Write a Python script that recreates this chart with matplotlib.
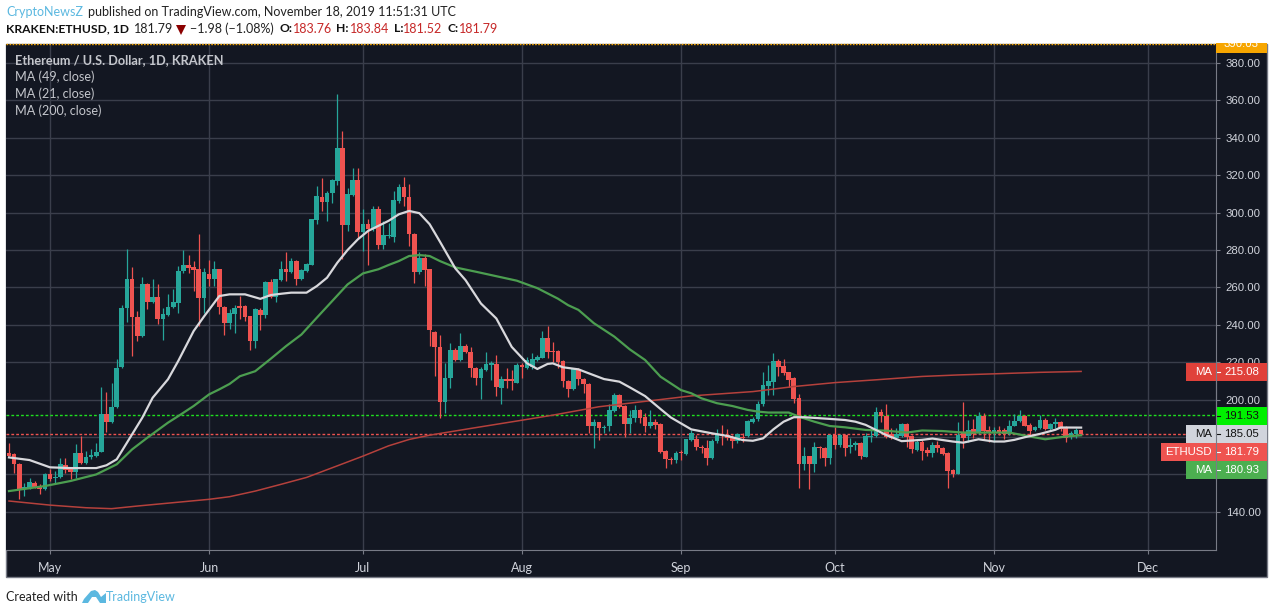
import matplotlib
matplotlib.use("Agg")
import matplotlib.pyplot as plt
import pandas as pd
from matplotlib.patches import Rectangle, Polygon

# daily candles 2019-04-23 .. 2019-11-18, one row per month
opens = [
    171.6,170.7,165.8,152.0,152.9,155.6,153.8,152.0,
    160.4,158.3,158.8,164.9,162.7,161.5,171.3,165.9,169.5,169.9,172.2,192.5,188.0,196.2,217.5,249.2,264.7,244.2,234.0,261.7,252.2,255.1,243.3,245.3,249.6,251.9,268.8,271.8,271.0,269.7,254.2,
    267.4,264.4,269.7,249.6,241.0,245.9,250.0,250.0,244.5,231.3,247.7,245.2,262.9,254.8,263.9,269.7,268.2,273.9,264.3,268.8,272.0,296.1,308.6,305.7,310.4,317.0,334.8,293.2,309.3,317.3,
    289.7,293.8,291.1,302.2,282.7,287.5,287.0,306.3,313.6,308.1,288.8,268.2,275.5,269.7,236.3,228.2,198.6,211.6,226.8,221.1,228.7,225.3,216.7,211.6,215.9,218.5,219.1,206.2,211.0,210.9,209.1,
    218.5,216.7,217.3,221.2,222.5,233.0,226.0,226.0,220.7,210.1,205.7,216.4,211.2,208.4,186.0,187.8,185.1,185.8,193.9,202.6,196.6,186.9,190.3,194.4,190.5,185.8,188.3,186.9,172.5,168.5,167.6,
    171.9,170.8,178.3,179.0,174.5,174.3,168.8,178.1,181.5,181.3,179.8,177.9,180.2,180.6,188.1,189.5,197.4,207.5,209.5,220.9,218.1,214.9,211.6,200.7,165.6,169.8,165.6,174.7,174.1,168.8,
    181.3,175.6,181.3,174.5,175.6,177.0,169.5,180.0,180.6,193.4,191.5,181.5,179.7,180.6,187.2,180.6,173.2,177.6,173.1,171.3,175.8,174.0,171.3,162.3,160.2,182.4,180.3,184.2,182.1,191.4,183.5,
    182.6,183.5,183.5,181.5,186.0,188.4,191.0,186.6,183.5,184.8,189.3,184.2,186.9,188.0,185.1,180.3,181.7,183.76,
]
closes = [
    169.9,165.8,152.0,153.5,156.1,153.3,152.0,160.4,
    157.7,158.8,165.4,162.4,161.5,171.3,165.9,169.5,170.2,172.2,192.5,188.0,196.2,217.1,249.2,264.7,244.2,234.0,261.7,252.2,255.1,243.3,246.0,249.6,252.4,268.8,271.8,270.6,269.3,254.2,268.3,
    264.4,269.7,249.6,241.0,246.2,249.1,249.1,244.1,231.3,248.2,245.2,262.9,254.8,264.3,269.7,268.2,273.9,264.3,269.3,272.3,296.4,308.8,305.7,310.7,317.5,334.8,293.2,309.7,317.3,289.7,
    293.8,291.4,302.2,282.7,287.9,287.9,306.6,313.9,308.1,288.8,268.2,275.5,269.3,237.1,228.2,198.6,211.6,226.3,221.1,228.9,225.3,216.7,211.6,216.2,219.1,219.4,206.7,211.0,210.1,210.1,218.5,
    217.3,221.2,221.7,223.0,233.0,225.7,225.3,220.3,210.1,205.7,216.4,210.9,208.4,186.0,187.8,185.1,185.5,194.4,202.6,196.2,186.9,190.3,194.4,190.3,185.8,188.3,186.6,172.1,168.2,167.6,171.7,
    171.2,178.7,181.9,174.5,174.0,168.8,178.1,181.5,180.6,179.3,177.9,181.5,179.7,188.4,189.7,197.7,207.9,209.9,220.7,217.7,214.1,210.6,200.4,165.6,169.8,165.6,174.7,174.0,169.0,181.3,
    175.7,181.3,174.3,175.7,176.8,169.8,180.4,180.7,193.4,191.5,179.8,179.7,181.5,187.2,179.8,173.6,177.2,172.7,171.3,175.8,174.0,171.0,161.8,160.2,181.2,179.7,183.9,181.5,191.4,183.0,182.6,
    183.5,182.6,181.5,186.0,188.7,191.4,186.0,183.3,185.3,189.3,184.2,187.1,187.8,184.2,179.7,182.1,183.9,181.79,
]
highs = [
    177.0,171.3,166.3,155.6,158.3,156.5,154.7,160.9,
    162.7,161.8,169.0,169.0,163.6,176.1,180.6,172.5,173.8,177.0,206.9,204.3,209.1,221.6,250.4,280.4,271.0,247.4,265.6,262.6,264.7,261.7,249.2,256.3,259.0,271.5,280.0,277.2,274.2,288.8,270.6,
    274.7,274.2,270.0,250.0,248.3,250.4,255.4,250.4,244.7,249.1,249.1,263.4,264.7,264.7,274.1,279.1,275.9,274.7,269.7,273.2,296.8,314.3,318.4,311.6,318.2,363.4,343.4,313.1,324.1,323.6,
    301.8,296.4,303.6,303.6,295.6,294.7,311.6,315.2,318.8,315.2,288.9,278.9,277.7,270.0,236.6,234.3,219.6,230.4,227.7,235.7,229.6,228.4,217.3,217.6,225.7,220.9,223.9,212.8,216.7,215.9,219.4,
    219.4,223.0,224.8,223.9,236.9,239.4,231.0,226.6,221.2,210.5,216.7,216.7,211.7,208.7,189.6,188.2,186.7,197.6,203.3,203.0,197.1,194.4,197.1,194.8,193.0,194.4,189.4,187.3,173.0,169.4,172.5,
    173.0,179.1,183.7,181.1,175.7,178.4,178.8,184.1,186.5,184.1,181.1,182.3,182.0,189.1,190.6,199.5,215.0,218.6,224.9,221.6,221.6,215.0,212.0,203.1,174.5,170.0,177.2,175.2,174.5,181.6,
    185.6,181.5,181.6,179.3,177.9,177.5,182.0,184.1,195.9,194.9,197.7,184.7,184.7,187.7,187.7,181.1,178.4,178.5,174.9,177.6,178.1,174.9,171.9,162.7,188.0,198.8,189.3,189.6,193.4,192.8,185.7,
    185.3,185.7,184.8,189.3,192.5,194.6,191.9,187.5,186.0,191.9,190.2,187.5,190.2,188.7,186.0,183.0,185.1,183.84,
]
lows = [
    169.9,160.9,147.0,148.5,152.4,152.9,149.4,151.7,
    156.5,155.6,158.3,160.9,157.4,158.3,165.4,165.4,168.1,169.5,172.0,182.7,187.7,195.7,217.1,241.5,223.3,231.4,233.7,248.3,251.9,240.3,231.9,244.7,249.2,246.5,267.9,267.9,258.1,239.4,246.5,
    260.8,260.8,245.6,234.4,237.6,235.7,242.9,242.0,226.8,227.7,237.5,243.8,254.5,252.2,263.4,263.4,267.9,261.3,263.9,268.2,271.8,293.8,300.6,295.6,305.4,314.8,275.0,290.2,308.9,286.6,
    279.5,272.0,290.2,280.4,280.4,286.6,284.3,305.4,303.6,282.2,262.2,267.0,260.7,228.6,212.9,190.2,192.9,206.3,220.5,220.5,224.8,212.3,207.8,200.3,215.5,210.5,202.1,197.5,206.0,205.1,208.7,
    211.4,216.2,216.2,220.9,222.1,222.1,220.3,216.7,206.9,201.2,205.1,207.8,203.7,182.3,173.9,178.3,182.3,183.3,193.3,195.7,180.1,181.9,188.2,187.3,182.8,185.1,184.1,171.2,163.7,165.8,166.2,
    167.6,170.3,178.0,173.1,171.3,165.0,168.4,176.6,175.7,178.4,174.3,176.6,177.5,180.2,187.3,188.8,196.6,202.5,202.5,212.4,213.2,207.0,198.4,152.5,162.3,152.0,161.5,168.6,164.5,165.6,
    173.4,174.8,170.0,171.3,173.1,168.1,169.1,177.5,180.2,188.2,179.3,178.8,179.0,180.2,174.8,171.3,172.7,167.7,170.1,169.5,172.2,170.4,152.8,158.8,160.0,174.4,177.2,179.4,181.5,178.8,177.6,
    177.6,181.2,178.8,181.2,185.7,188.0,185.7,181.2,183.0,184.4,183.9,183.0,184.8,183.0,177.1,179.0,179.7,181.52,
]

ma21_dates = ["2019-04-23","2019-04-27","2019-05-01","2019-05-05","2019-05-10","2019-05-12","2019-05-14","2019-05-16","2019-05-19","2019-05-21","2019-05-24","2019-05-26","2019-05-29","2019-05-31","2019-06-03","2019-06-05",
    "2019-06-08","2019-06-11","2019-06-13","2019-06-15","2019-06-17","2019-06-20","2019-06-22","2019-06-24","2019-06-26","2019-06-28","2019-06-30","2019-07-02","2019-07-04","2019-07-06","2019-07-08","2019-07-10","2019-07-12","2019-07-14","2019-07-16","2019-07-19","2019-07-21","2019-07-24","2019-07-27","2019-07-30",
    "2019-08-02","2019-08-04","2019-08-06","2019-08-07","2019-08-09","2019-08-12","2019-08-14","2019-08-17","2019-08-20","2019-08-22","2019-08-25","2019-08-28","2019-08-30","2019-09-03","2019-09-07","2019-09-10","2019-09-13","2019-09-15","2019-09-17","2019-09-19","2019-09-21","2019-09-23","2019-09-25","2019-09-30",
    "2019-10-03","2019-10-05","2019-10-07","2019-10-09","2019-10-11","2019-10-14","2019-10-18","2019-10-20","2019-10-24","2019-10-26","2019-10-29","2019-11-01","2019-11-03","2019-11-05","2019-11-07","2019-11-10","2019-11-13","2019-11-14","2019-11-18"]
ma21 = [169.1,167.7,163.8,163.4,163.4,164.9,168.1,177.0,190.4,201.0,210.9,220.7,236.7,244.4,255.4,256.3,
    256.3,253.9,255.9,256.6,257.2,257.2,260.7,265.2,273.2,280.0,285.7,290.2,292.9,295.6,299.1,300.9,299.7,293.8,284.5,270.2,263.9,251.4,243.4,228.2,
    219.4,216.4,219.1,219.4,217.3,216.2,214.1,211.0,209.6,206.6,201.9,195.0,190.5,184.1,182.0,180.6,178.4,178.0,179.3,184.1,188.2,190.6,190.6,189.7,
    189.1,188.2,186.5,183.8,181.1,177.8,178.5,179.2,177.6,177.0,178.8,177.6,177.6,178.5,179.9,181.7,183.9,185.1,185.05]

ma49_dates = ["2019-04-23","2019-04-30","2019-05-05","2019-05-10","2019-05-14","2019-05-17","2019-05-20","2019-05-24","2019-05-26","2019-05-29","2019-06-01","2019-06-03","2019-06-05","2019-06-07","2019-06-10","2019-06-13","2019-06-16","2019-06-19","2019-06-22","2019-06-25","2019-06-28",
    "2019-07-01","2019-07-04","2019-07-06","2019-07-08","2019-07-10","2019-07-12","2019-07-14","2019-07-16","2019-07-19","2019-07-23","2019-07-28","2019-07-31","2019-08-04","2019-08-08","2019-08-10","2019-08-12","2019-08-15","2019-08-19","2019-08-22","2019-08-25","2019-08-28",
    "2019-09-01","2019-09-03","2019-09-05","2019-09-08","2019-09-11","2019-09-14","2019-09-16","2019-09-18","2019-09-22","2019-09-24","2019-09-27","2019-09-30","2019-10-03","2019-10-07","2019-10-11","2019-10-15","2019-10-18","2019-10-22","2019-10-26","2019-10-31","2019-11-04","2019-11-08","2019-11-11","2019-11-15","2019-11-18"]
ma49 = [151.1,153.8,156.5,160.0,165.4,173.4,179.7,187.7,191.2,196.6,202.8,205.5,208.4,212.5,215.2,221.8,228.6,234.8,243.8,252.7,261.6,
    267.5,269.7,272.0,274.1,276.8,277.3,276.8,274.1,270.7,268.4,265.4,263.6,259.6,254.0,250.5,248.0,240.9,233.7,226.9,221.2,212.3,
    205.1,203.4,200.7,198.1,196.6,194.5,193.6,193.1,193.1,190.9,188.2,185.9,185.2,183.8,183.4,182.4,183.5,183.2,182.4,182.4,182.4,180.3,178.8,180.3,180.93]

ma200_dates = ["2019-04-23","2019-05-01","2019-05-08","2019-05-13","2019-05-18","2019-05-25","2019-06-01","2019-06-05","2019-06-10","2019-06-15","2019-06-20","2019-06-26","2019-07-01","2019-07-06","2019-07-10","2019-07-14","2019-07-22",
    "2019-08-01","2019-08-07","2019-08-16","2019-08-26","2019-09-03","2019-09-15","2019-09-23","2019-10-01","2019-10-09","2019-10-18","2019-10-25","2019-11-01","2019-11-10","2019-11-18"]
ma200 = [145.8,143.6,142.2,141.7,143.1,144.9,146.7,148.1,151.1,154.7,158.4,164.6,169.8,175.3,178.7,181.0,184.6,
    189.0,191.7,196.2,199.4,202.0,204.3,207.0,209.1,210.6,212.4,213.2,213.8,214.6,215.08]

price_ticks = [140, 160, 180, 200, 220, 240, 260, 280, 300, 320, 340, 360, 380]
hidden_ticks = [160, 180]  # covered by the price badges
month_ticks = ["2019-05-01", "2019-06-01", "2019-07-01", "2019-08-01", "2019-09-01", "2019-10-01", "2019-11-01", "2019-12-01"]
month_names = ["May", "Jun", "Jul", "Aug", "Sep", "Oct", "Nov", "Dec"]
last_price = 181.79
resistance = 191.53

BG = "#131722"
GRID = "#3a3e4b"
AXIS = "#787b86"
UP = "#26a69a"
DOWN = "#ef5350"
TXT = "#d1d4dc"
LINK = "#5bb8e0"
W, H = 1274, 615

fig = plt.figure(figsize=(W / 100, H / 100), dpi=100, facecolor="white")


def pixel_axes(z):
    a = fig.add_axes([0, 0, 1, 1], zorder=z)
    a.set_xlim(0, W)
    a.set_ylim(H, 0)
    a.axis("off")
    a.patch.set_alpha(0)
    return a


under = pixel_axes(-1)
under.add_patch(Rectangle((6, 44), 1261, 533, fc=BG, ec=AXIS, lw=1.0))

ax = fig.add_axes([6 / W, (H - 550) / H, 1210 / W, 506 / H], zorder=1)
ax.set_facecolor(BG)
dates = pd.date_range("2019-04-23", periods=len(closes), freq="D")
ax.set_xlim(pd.Timestamp("2019-04-22 10:00"), pd.Timestamp("2019-12-14 07:00"))
ax.set_ylim(119.6, 390.16)

ax.set_yticks(price_ticks)
ax.set_yticklabels(["" if p in hidden_ticks else "%.2f" % p for p in price_ticks],
                   family="Liberation Sans", fontsize=8.2, color=TXT)
ax.yaxis.tick_right()
ax.set_xticks(pd.to_datetime(month_ticks))
ax.set_xticklabels(month_names, family="Lato", fontsize=9, color=TXT)
ax.tick_params(axis="y", length=3, width=0.8, color=AXIS, pad=4)
ax.tick_params(axis="x", length=3, width=0.8, color=AXIS, pad=6)
ax.grid(True, color=GRID, lw=1.0)
ax.set_axisbelow(True)
for s in ("top", "left"):
    ax.spines[s].set_visible(False)
for s in ("right", "bottom"):
    ax.spines[s].set_color(AXIS)

ax.axhline(resistance, color="#1fe01f", lw=1.0, ls=(0, (2, 1.5)), zorder=2)
ax.axhline(last_price, color=DOWN, lw=1.0, ls=(0, (2, 1.5)), zorder=2)

colors = [UP if c >= o else DOWN for o, c in zip(opens, closes)]
ax.vlines(dates, lows, highs, colors=colors, lw=0.9, zorder=3)
bottoms = [min(o, c) for o, c in zip(opens, closes)]
sizes = [max(abs(c - o), 0.5) for o, c in zip(opens, closes)]
ax.bar(dates, sizes, bottom=bottoms, width=0.92, color=colors, lw=0, zorder=3)

ax.plot(pd.to_datetime(ma200_dates), ma200, color="#b5413c", lw=1.1, zorder=4)
ax.plot(pd.to_datetime(ma49_dates), ma49, color="#4c9e50", lw=1.6, solid_joinstyle="round", zorder=4)
ax.plot(pd.to_datetime(ma21_dates), ma21, color="#d8d8dc", lw=1.6, solid_joinstyle="round", zorder=4)

# everything printed over the chart, placed in image pixels
over = pixel_axes(5)


def label(x, y, s, **kw):
    kw.setdefault("family", "Lato")
    kw.setdefault("fontsize", 9.0)
    kw.setdefault("va", "center")
    return over.text(x, y, s, **kw)


label(6, 12, "CryptoNewsZ", color=LINK)
label(88, 12, "published on TradingView.com, November 18, 2019 11:51:31 UTC", color="#222222")
label(6, 29, "KRAKEN:ETHUSD, 1D", color="#111111", weight="bold", fontsize=8.7)
label(134, 29, "181.79", color="#222222")
over.add_patch(Polygon([(176, 25), (186, 25), (181, 35)], fc="#8b0000", ec="none"))
label(190, 29, "\u22121.98 (\u22121.08%)", color="#222222")
for x0, key, x1, val in [(279, "O:", 293, "183.76"), (336, "H:", 350, "183.84"), (394, "L:", 403, "181.52"), (447, "C:", 459, "181.79")]:
    label(x0, 29, key, color="#111111", weight="bold", fontsize=8.7)
    label(x1, 29, val, color="#c62828")

label(15, 60, "Ethereum / U.S. Dollar, 1D, KRAKEN", color="#c4c6cc", weight="bold", fontsize=9.2)
label(15, 77, "MA (49, close)", color="#c4c6cc", fontsize=9.1)
label(15, 94, "MA (21, close)", color="#c4c6cc", fontsize=9.1)
label(15, 111, "MA (200, close)", color="#c4c6cc", fontsize=9.1)

over.plot([6, 1216], [44, 44], color="#f7a600", lw=1.0, ls=(0, (1.2, 1)))
top_box = Rectangle((1216, 43), 51, 10, fc="#f7a600", ec="none")
over.add_patch(top_box)
label(1241.5, 44, "390.03", color="white", fontsize=8.2, family="Liberation Sans", ha="center").set_clip_path(top_box)


def badge(x0, y0, y1, fc, tc, name, value):
    over.add_patch(Rectangle((x0, y0), 1267 - x0, y1 - y0, fc=fc, ec="none"))
    mid = (y0 + y1) / 2
    if name:
        label(1212, mid, name, color=tc, ha="right", fontsize=8.2, family="Liberation Sans")
    over.plot([1216, 1220], [mid, mid], color=tc, lw=0.8)
    label(1241.5, mid, value, color=tc, ha="center", fontsize=8.2, family="Liberation Sans")


badge(1186, 363, 381, "#e0413a", "white", "MA", "215.08")
badge(1216, 407, 425, "#00f000", "#111111", "", "191.53")
badge(1186, 425, 443, "#d1d4dc", "#111111", "MA", "185.05")
badge(1161, 443, 461, "#ef5350", "white", "ETHUSD", "181.79")
badge(1186, 461, 479, "#4caf50", "white", "MA", "180.93")
over.plot([1216, 1216], [363, 479], color=AXIS, lw=0.8)

label(6, 597, "Created with", color="#222222")
over.add_patch(Polygon([(82, 603), (84, 599), (91, 591), (95, 590), (98, 592), (101, 597), (106, 593), (106, 603),
                        (100, 603), (96, 597), (92, 597), (88, 603)], fc=LINK, ec="none"))
label(106, 597, "TradingView", color=LINK)

fig.savefig("out.png", dpi=100, facecolor="white")
